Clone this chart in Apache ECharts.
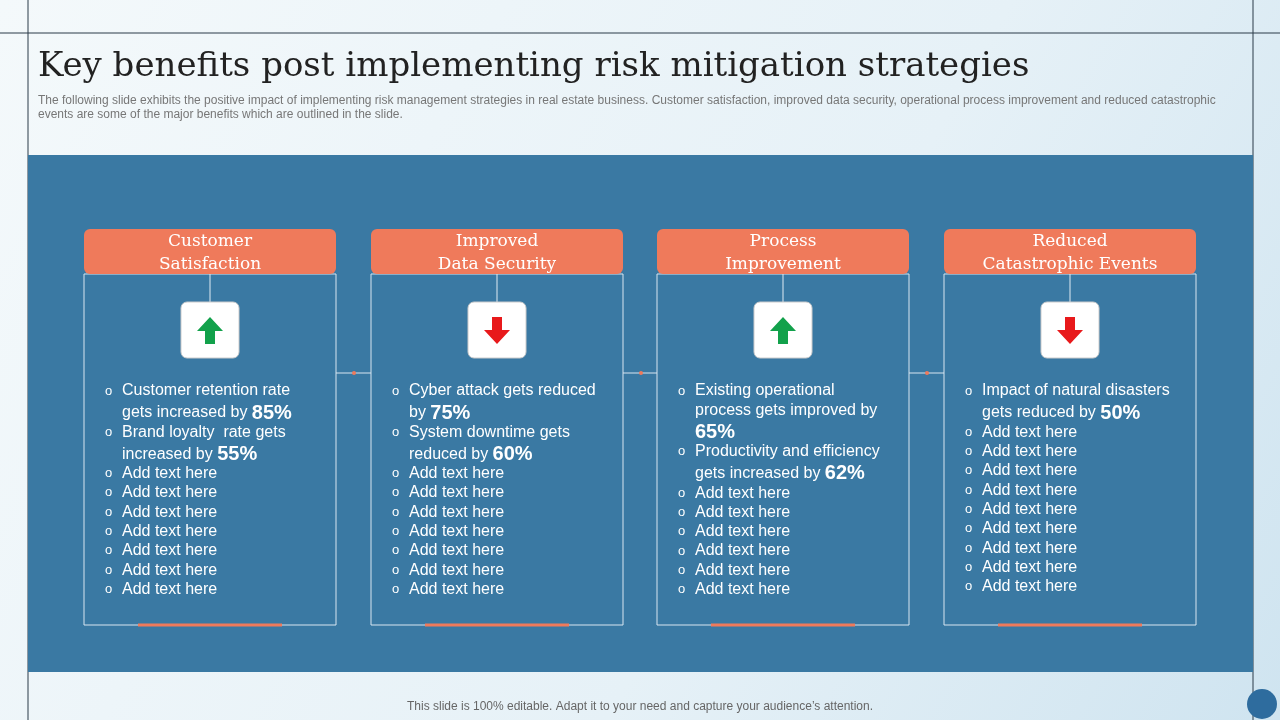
<!DOCTYPE html>
<html><head><meta charset="utf-8">
<script src="https://cdn.jsdelivr.net/npm/echarts@6/dist/echarts.min.js"></script>
<style>html,body{margin:0;padding:0}#c{width:1280px;height:720px}</style>
</head><body><div id="c"></div>
<script>
const titleText = 'Key benefits post implementing risk mitigation strategies';
const subText = ['The following slide exhibits the positive impact of implementing risk management strategies in real estate business. Customer satisfaction, improved data security, operational process improvement and reduced catastrophic',
  'events are some of the major benefits which are outlined in the slide.'];
const footText = 'This slide is 100% editable. Adapt it to your need and capture your audience\u2019s attention.';
const headers = [['Customer', 'Satisfaction'], ['Improved', 'Data Security'], ['Process', 'Improvement'], ['Reduced', 'Catastrophic Events']];
const arrows = ['up', 'down', 'up', 'down'];
// each bullet: list of lines; "{b|..}" marks the bold figure
const bullets = [
  [['Customer retention rate', 'gets increased by {b|85%}'], ['Brand loyalty  rate gets', 'increased by {b|55%}'],
   ['Add text here'], ['Add text here'], ['Add text here'], ['Add text here'], ['Add text here'], ['Add text here'], ['Add text here']],
  [['Cyber attack gets reduced', 'by {b|75%}'], ['System downtime gets', 'reduced by {b|60%}'],
   ['Add text here'], ['Add text here'], ['Add text here'], ['Add text here'], ['Add text here'], ['Add text here'], ['Add text here']],
  [['Existing operational', 'process gets improved by', '{b|65%}'], ['Productivity and efficiency', 'gets increased by {b|62%}'],
   ['Add text here'], ['Add text here'], ['Add text here'], ['Add text here'], ['Add text here'], ['Add text here']],
  [['Impact of natural disasters', 'gets reduced by {b|50%}'],
   ['Add text here'], ['Add text here'], ['Add text here'], ['Add text here'], ['Add text here'], ['Add text here'], ['Add text here'], ['Add text here'], ['Add text here']]
];

const colX = [84, 371, 657, 944];
const colW = 252;
const orange = '#EF7A5B';
const serif = '"DejaVu Serif", "Liberation Serif", serif';
const g = [];

g.push({ type: 'rect', shape: { x: 0, y: 0, width: 1280, height: 720 }, style: { fill: new echarts.graphic.LinearGradient(0, 0, 1, 1, [{ offset: 0, color: '#F4F9FB' }, { offset: 0.6, color: '#E6F1F7' }, { offset: 1, color: '#CFE4F0' }]) } });
g.push({ type: 'line', shape: { x1: 0, y1: 33, x2: 1280, y2: 33 }, style: { stroke: '#2A3A48', lineWidth: 1 } });
g.push({ type: 'line', shape: { x1: 28, y1: 0, x2: 28, y2: 720 }, style: { stroke: '#2A3A48', lineWidth: 1 } });
g.push({ type: 'line', shape: { x1: 1253, y1: 0, x2: 1253, y2: 720 }, style: { stroke: '#2A3A48', lineWidth: 1 } });
g.push({ type: 'text', x: 38, y: 67, style: { text: titleText, font: '34px ' + serif, fill: '#222', textVerticalAlign: 'middle' } });
subText.forEach((t, i) => g.push({ type: 'text', x: 38, y: 101 + i * 14, style: { text: t, font: '12px "Liberation Sans", Arial', fill: '#777', textVerticalAlign: 'middle' } }));
g.push({ type: 'rect', shape: { x: 28, y: 155, width: 1225, height: 517 }, style: { fill: '#3A79A3' } });
g.push({ type: 'text', x: 640, y: 707, style: { text: footText, font: '12px "Liberation Sans", Arial', fill: '#666', textAlign: 'center', textVerticalAlign: 'middle' } });
g.push({ type: 'circle', shape: { cx: 1262, cy: 704, r: 15 }, style: { fill: '#2E6C9E' } });

colX.forEach((x, i) => {
  const cx = x + colW / 2;
  g.push({ type: 'rect', shape: { x: x, y: 274, width: colW, height: 351 }, style: { fill: 'none', stroke: '#D8E6F0', lineWidth: 1 } });
  g.push({ type: 'line', shape: { x1: cx - 72, y1: 625, x2: cx + 72, y2: 625 }, style: { stroke: orange, lineWidth: 3 } });
  g.push({ type: 'rect', shape: { x: x, y: 229, width: colW, height: 45, r: 6 }, style: { fill: orange } });
  g.push({ type: 'text', x: cx, y: 253, style: { text: headers[i].join('\n'), font: '17px ' + serif, lineHeight: 23, fill: '#fff', textAlign: 'center', textVerticalAlign: 'middle' } });
  g.push({ type: 'line', shape: { x1: cx, y1: 274, x2: cx, y2: 302 }, style: { stroke: '#E0ECF3', lineWidth: 1 } });
  g.push({ type: 'rect', shape: { x: cx - 29, y: 302, width: 58, height: 56, r: 6 }, style: { fill: '#fff', stroke: '#ccc' } });
  const up = arrows[i] === 'up';
  const col = up ? '#12A14B' : '#E8191B';
  const pts = up
    ? [[cx, 317], [cx + 13, 331], [cx + 5, 331], [cx + 5, 344], [cx - 5, 344], [cx - 5, 331], [cx - 13, 331]]
    : [[cx, 344], [cx + 13, 330], [cx + 5, 330], [cx + 5, 317], [cx - 5, 317], [cx - 5, 330], [cx - 13, 330]];
  g.push({ type: 'polygon', shape: { points: pts }, style: { fill: col } });
  if (i < 3) {
    g.push({ type: 'line', shape: { x1: x + colW, y1: 373, x2: colX[i + 1], y2: 373 }, style: { stroke: '#D8E6F0', lineWidth: 1 } });
    g.push({ type: 'circle', shape: { cx: x + colW + 18, cy: 373, r: 2 }, style: { fill: orange } });
  }
  let y = 391;
  bullets[i].forEach(item => {
    g.push({ type: 'text', x: x + 21, y: y, style: { text: 'o', font: '13px "Liberation Sans", Arial', fill: '#fff', textVerticalAlign: 'middle' } });
    item.forEach((ln, k) => {
      const big = ln.indexOf('{b|') >= 0;
      if (k > 0) y += big ? 22 : 19.5;
      g.push({ type: 'text', x: x + 38, y: y, style: { text: ln, font: '16px "Liberation Sans", Arial', fill: '#fff', textVerticalAlign: 'middle',
        rich: { b: { fontSize: 20, fontWeight: 'bold', fill: '#fff', fontFamily: '"Liberation Sans", Arial' } } } });
    });
    y += 19.3;
  });
});

const chart = echarts.init(document.getElementById('c'));
chart.setOption({ graphic: g });
</script></body></html>
